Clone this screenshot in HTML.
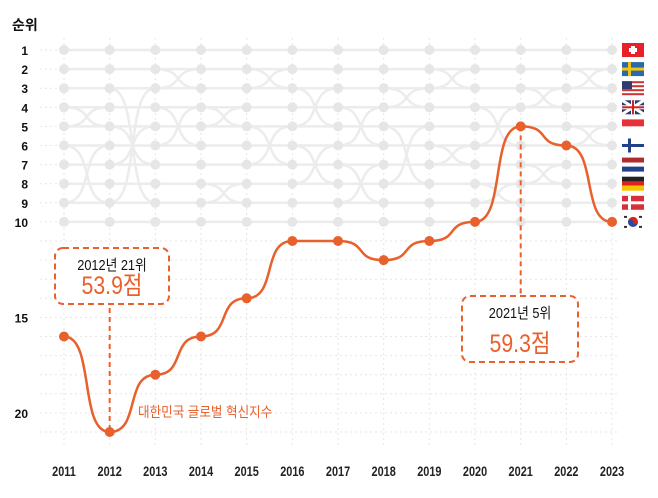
<!DOCTYPE html>
<html><head><meta charset="utf-8"><style>
body{margin:0;background:#fff;font-family:"Liberation Sans","Noto Sans CJK KR",sans-serif}
svg{display:block}
</style></head><body>
<svg id="c" width="658" height="498" viewBox="0 0 658 498"></svg>
<script>
const years=[2011,2012,2013,2014,2015,2016,2017,2018,2019,2020,2021,2022,2023];
const korea=[16,21,18,16,14,11,11,12,11,10,5,6,10];
const yTicks=[1,2,3,4,5,6,7,8,9,10,15,20];
const swaps=[[0,4,5],[0,6,9],[1,3,9],[1,5,7],[2,2,3],[2,4,6],[3,4,5],[3,8,9],[4,2,3],[4,5,7],[5,3,5],[5,6,8],[6,4,6],[6,7,9],[7,3,4],[7,5,8],[8,2,3],[8,6,7],[9,4,6],[9,8,9],[10,3,4],[10,7,8],[11,2,3],[11,5,6]];
const NS="http://www.w3.org/2000/svg";
const svg=document.getElementById('c');
const X=i=>64+i*45.67;
const Y=r=>50+(r-1)*19.1;
function mk(t,a,p){const e=document.createElementNS(NS,t);for(const k in a)e.setAttribute(k,a[k]);(p||svg).appendChild(e);return e;}
function curve(x0,y0,x1,y1){const m=(x1-x0)*0.68;return `C${x0+m},${y0} ${x1-m},${y1} ${x1},${y1}`;}
for(let r=1;r<=21;r++){const g=mk('line',{x1:40,x2:620,y1:Y(r),y2:Y(r),stroke:'#e6e6e6','stroke-width':1,'stroke-dasharray':'2 3'});

}
years.forEach((y,i)=>{const g=mk('line',{x1:X(i),x2:X(i),y1:38,y2:445,stroke:'#e6e6e6','stroke-width':1,'stroke-dasharray':'2 3'});

});
for(let r=1;r<=10;r++){const l=mk('line',{x1:X(0),x2:X(12),y1:Y(r),y2:Y(r),stroke:'#ececec','stroke-width':2.5});

}
swaps.forEach(s=>{const [i,a,b]=s;
[[a,b],[b,a]].forEach(([p,q])=>{const e=mk('path',{d:`M${X(i)},${Y(p)} `+curve(X(i),Y(p),X(i+1),Y(q)),fill:'none',stroke:'#ececec','stroke-width':2.5});

});});
years.forEach((y,i)=>{for(let r=1;r<=10;r++){const d=mk('circle',{cx:X(i),cy:Y(r),r:5,fill:'#e6e6e6'});

}});
const t0=mk('text',{x:12,y:30,'font-size':14,'font-weight':'bold',fill:'#111'});t0.textContent='순위';


yTicks.forEach(r=>{const t=mk('text',{x:28,y:Y(r)+5,'font-size':12,'font-weight':'bold','text-anchor':'end',fill:'#111'});t.textContent=r;

});
years.forEach((y,i)=>{const t=mk('text',{x:X(i),y:476,'font-size':14,'font-weight':'bold','text-anchor':'middle',fill:'#222',transform:`translate(${X(i)},0) scale(0.78,1) translate(${-X(i)},0)`});t.textContent=y;

});
const l1=mk('line',{x1:X(1),x2:X(1),y1:290,y2:Y(21),stroke:'#e8602c','stroke-width':2,'stroke-dasharray':'5 4'});


const l2=mk('line',{x1:X(10),x2:X(10),y1:Y(5),y2:296,stroke:'#e8602c','stroke-width':2,'stroke-dasharray':'5 4'});


let d=`M${X(0)},${Y(korea[0])}`;
for(let i=1;i<korea.length;i++)d+=' '+curve(X(i-1),Y(korea[i-1]),X(i),Y(korea[i]));
const kp=mk('path',{d,fill:'none',stroke:'#e8602c','stroke-width':2.5});


korea.forEach((r,i)=>{const c=mk('circle',{cx:X(i),cy:Y(r),r:5,fill:'#e8602c'});

});
function box(x,y,w,h,l1t,l2t,name){const g=mk('g',{});


mk('rect',{x,y,width:w,height:h,rx:8,fill:'#fff',stroke:'#e8602c','stroke-width':2,'stroke-dasharray':'6 4'},g);
const cx=x+w/2;
const a=mk('text',{x:cx,y:y+22,'font-size':15,'text-anchor':'middle',fill:'#111',transform:`translate(${cx},0) scale(0.85,1) translate(${-cx},0)`},g);a.textContent=l1t;
const b=mk('text',{x:cx,y:y+h-10,'font-size':25,'text-anchor':'middle',fill:'#e8602c',transform:`translate(${cx},0) scale(0.85,1) translate(${-cx},0)`},g);b.textContent=l2t;}
box(55,248,114,56,'2012년 21위','53.9점','annotation-2012');
box(462,296,116,66,'2021년 5위','59.3점','annotation-2021');
const sl=mk('text',{x:138,y:417,'font-size':14,fill:'#e8602c',transform:'translate(138,0) scale(0.9,1) translate(-138,0)'});sl.textContent='대한민국 글로벌 혁신지수';


const fx=622,fh=14;
function flag(r,html,name){const g=mk('g',{transform:`translate(${fx},${Y(r)-fh/2})`});


g.innerHTML=html;}
flag(1,`<rect width="22" height="14" fill="#e8202a"/><rect x="9" y="3" width="4" height="8" fill="#fff"/><rect x="7" y="5" width="8" height="4" fill="#fff"/>`,'flag-switzerland');
flag(2,`<rect width="22" height="14" fill="#2a6aa8"/><rect x="6" width="3" height="14" fill="#f2c417"/><rect y="5.5" width="22" height="3" fill="#f2c417"/>`,'flag-sweden');
flag(3,`<rect width="22" height="14" fill="#c33"/><rect y="2" width="22" height="2" fill="#fff"/><rect y="6" width="22" height="2" fill="#fff"/><rect y="10" width="22" height="2" fill="#fff"/><rect width="10" height="8" fill="#2b3d73"/>`,'flag-usa');
flag(4,`<rect width="22" height="14" fill="#243a7a"/><path d="M0,0L22,14M22,0L0,14" stroke="#fff" stroke-width="3"/><rect x="9" width="4" height="14" fill="#fff"/><rect y="5" width="22" height="4" fill="#fff"/><rect x="10" width="2" height="14" fill="#c22"/><rect y="6" width="22" height="2" fill="#c22"/>`,'flag-uk');
flag(5,`<rect width="22" height="7" fill="#e8303a"/><rect y="7" width="22" height="7" fill="#fff"/>`,'flag-singapore');
flag(6,`<rect width="22" height="14" fill="#fff"/><rect x="6" width="3" height="14" fill="#22418a"/><rect y="5.5" width="22" height="3" fill="#22418a"/>`,'flag-finland');
flag(7,`<rect width="22" height="5" fill="#b02a30"/><rect y="5" width="22" height="4" fill="#fff"/><rect y="9" width="22" height="5" fill="#22418a"/>`,'flag-netherlands');
flag(8,`<rect width="22" height="5" fill="#222"/><rect y="5" width="22" height="4" fill="#d22"/><rect y="9" width="22" height="5" fill="#f5c400"/>`,'flag-germany');
flag(9,`<rect width="22" height="14" fill="#d8303a"/><rect x="6" width="3" height="14" fill="#fff"/><rect y="5.5" width="22" height="3" fill="#fff"/>`,'flag-denmark');
flag(10,`<rect width="22" height="16" y="-1" fill="#fff"/><circle cx="11" cy="7" r="5" fill="#d22"/><path d="M6,7a5,5 0 0,0 10,0a2.5,2.5 0 0,1 -5,0a2.5,2.5 0 0,0 -5,0" fill="#1f4fa0"/><g fill="#333"><rect x="2" y="1" width="3" height="2"/><rect x="17" y="1" width="3" height="2"/><rect x="2" y="11" width="3" height="2"/><rect x="17" y="11" width="3" height="2"/></g>`,'flag-korea');
</script>
</body></html>
